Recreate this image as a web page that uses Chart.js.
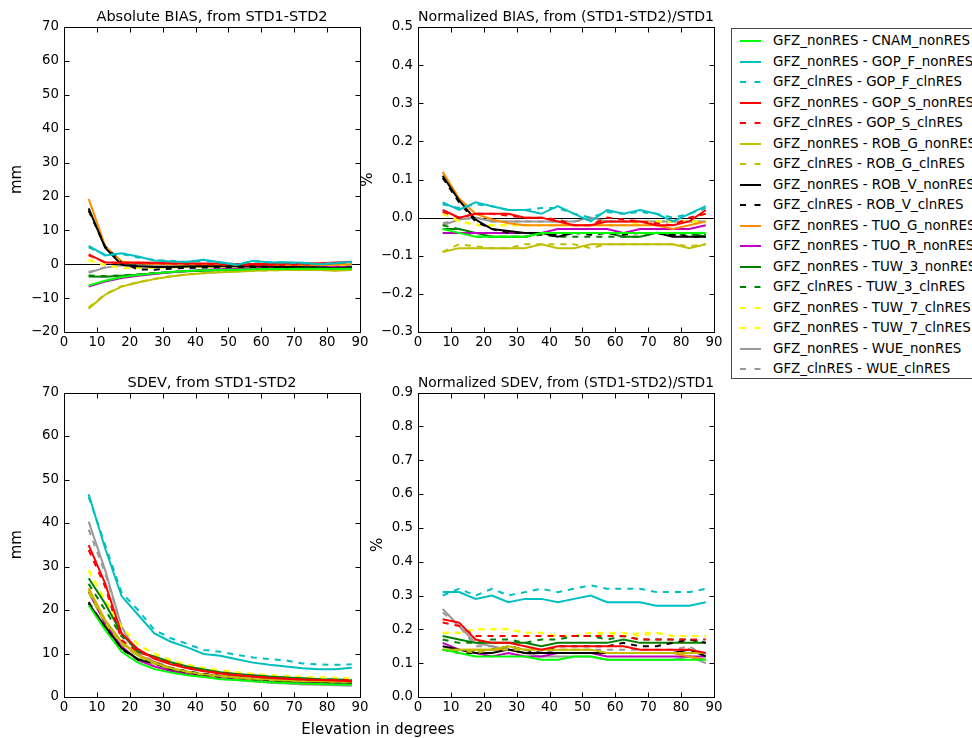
<!DOCTYPE html>
<html><head><meta charset="utf-8">
<script src="https://cdn.jsdelivr.net/npm/chart.js@4.4.0/dist/chart.umd.min.js"></script>
<style>
html,body{margin:0;padding:0;background:#fff;width:972px;height:738px;overflow:hidden;font-family:'DejaVu Sans',sans-serif;}
canvas{position:absolute;}
#legend{position:absolute;left:731px;top:28px;width:262px;height:351px;border:1px solid #444;background:#fff;box-sizing:border-box;}
.row{position:absolute;left:0;height:20px;line-height:20px;font-size:13.4px;white-space:nowrap;color:#000;width:260px;}
.row svg{position:absolute;left:8px;top:0;}
.row span{position:absolute;left:41px;top:0;}
#xlabel{position:absolute;left:0;width:756px;text-align:center;top:720px;line-height:18px;font-size:15px;color:#000;}
</style></head>
<body>
<canvas id="p1"></canvas><canvas id="p2"></canvas><canvas id="p3"></canvas><canvas id="p4"></canvas>
<div id="legend"></div>
<div id="xlabel">Elevation in degrees</div>
<script>
// ---------------- data ----------------
const ELEVATION = [7.5,12.5,17.5,22.5,27.5,32.5,37.5,42.5,47.5,52.5,57.5,62.5,67.5,72.5,77.5,82.5,87.5];
const X_TICKS = [0,10,20,30,40,50,60,70,80,90];
const LEGEND_LABELS = [
  'GFZ_nonRES - CNAM_nonRES','GFZ_nonRES - GOP_F_nonRES','GFZ_clnRES - GOP_F_clnRES',
  'GFZ_nonRES - GOP_S_nonRES','GFZ_clnRES - GOP_S_clnRES','GFZ_nonRES - ROB_G_nonRES',
  'GFZ_clnRES - ROB_G_clnRES','GFZ_nonRES - ROB_V_nonRES','GFZ_clnRES - ROB_V_clnRES',
  'GFZ_nonRES - TUO_G_nonRES','GFZ_nonRES - TUO_R_nonRES','GFZ_nonRES - TUW_3_nonRES',
  'GFZ_clnRES - TUW_3_clnRES','GFZ_nonRES - TUW_7_clnRES','GFZ_nonRES - TUW_7_clnRES',
  'GFZ_nonRES - WUE_nonRES','GFZ_clnRES - WUE_clnRES'];
const PANEL_TITLES = ['Absolute BIAS, from STD1-STD2','Normalized BIAS, from (STD1-STD2)/STD1','SDEV, from STD1-STD2','Normalized SDEV, from (STD1-STD2)/STD1'];

// Absolute bias (mm)
const AB_CNAM  = [-6.3,-4.9,-3.8,-3.2,-2.7,-2.3,-2.0,-1.8,-1.7,-1.6,-1.5,-1.4,-1.4,-1.3,-1.3,-1.3,-1.3];
const AB_GOPF  = [5.4,2.6,3.2,2.3,1.1,0.8,0.7,1.3,0.6,-0.2,1.0,0.5,0.6,0.4,0.0,0.3,0.7];
const AB_GOPFc = [5.0,2.8,3.0,2.0,1.2,1.0,0.6,1.0,0.5,0.0,0.8,0.6,0.5,0.3,0.1,0.4,0.6];
const AB_GOPS  = [2.9,0.5,0.4,0.5,0.4,0.3,0.3,0.2,0.2,0.1,0.1,0.1,0.2,0.2,0.3,0.5,0.7];
const AB_GOPSc = [2.6,0.6,0.3,0.4,0.3,0.2,0.1,0.0,-0.1,-0.2,-0.3,-0.3,-0.2,-0.1,0.0,0.3,0.5];
const AB_ROBG  = [-13.1,-9.0,-6.6,-5.4,-4.4,-3.6,-3.0,-2.7,-2.4,-2.2,-1.9,-1.8,-1.7,-1.7,-1.7,-1.9,-1.7];
const AB_ROBGc = [-12.8,-8.8,-6.5,-5.3,-4.3,-3.5,-3.0,-2.6,-2.3,-2.1,-1.9,-1.8,-1.7,-1.7,-1.6,-1.8,-1.6];
const AB_ROBV  = [16.5,4.9,-0.2,-0.6,-0.8,-0.8,-0.7,-0.6,-0.6,-0.6,-0.6,-0.7,-0.8,-0.9,-1.0,-1.2,-1.0];
const AB_ROBVc = [15.8,5.2,0.5,-1.5,-1.6,-1.3,-1.1,-1.0,-0.9,-0.8,-0.8,-0.8,-0.9,-0.9,-1.0,-1.1,-1.0];
const AB_TUOG  = [19.3,5.4,0.8,0.3,0.1,0.0,-0.1,-0.2,-0.2,-0.3,-0.3,-0.3,-0.3,-0.3,-0.2,-0.1,0.0];
const AB_TUOR  = [-6.6,-5.1,-4.1,-3.4,-2.9,-2.4,-2.0,-1.7,-1.5,-1.3,-1.2,-1.1,-1.0,-0.9,-0.9,-0.8,-0.8];
const AB_TUW3  = [-3.6,-3.7,-3.4,-3.1,-2.7,-2.4,-2.1,-1.9,-1.8,-1.7,-1.6,-1.5,-1.4,-1.4,-1.3,-1.3,-1.2];
const AB_TUW3c = [-3.3,-3.5,-3.3,-3.0,-2.6,-2.3,-2.0,-1.8,-1.7,-1.6,-1.5,-1.4,-1.3,-1.3,-1.2,-1.2,-1.1];
const AB_TUW7a = [1.3,-0.2,-1.2,-1.1,-1.0,-0.9,-0.8,-0.8,-0.7,-0.7,-0.6,-0.6,-0.6,-0.5,-0.5,-0.5,-0.5];
const AB_TUW7b = [1.2,-0.3,-1.1,-1.1,-1.0,-0.9,-0.8,-0.7,-0.7,-0.7,-0.6,-0.6,-0.5,-0.5,-0.5,-0.5,-0.4];
const AB_WUE   = [-2.5,-1.0,-0.4,-0.4,-0.4,-0.5,-0.5,-0.5,-0.5,-0.5,-0.5,-0.5,-0.5,-0.5,-0.5,-0.5,-0.4];
const AB_WUEc  = [-2.3,-0.9,-0.3,-0.4,-0.5,-0.5,-0.5,-0.5,-0.5,-0.5,-0.4,-0.4,-0.4,-0.4,-0.4,-0.4,-0.4];

// Normalized bias (%)
const NB_CNAM  = [-0.03,-0.04,-0.05,-0.05,-0.05,-0.05,-0.04,-0.04,-0.04,-0.04,-0.04,-0.04,-0.04,-0.04,-0.04,-0.04,-0.04];
const NB_GOPF  = [0.04,0.02,0.04,0.03,0.02,0.02,0.01,0.03,0.01,-0.01,0.02,0.01,0.02,0.01,-0.01,0.01,0.03];
const NB_GOPFc = [0.035,0.025,0.035,0.03,0.02,0.02,0.025,0.025,0.01,0.0,0.015,0.01,0.015,0.01,0.0,0.01,0.025];
const NB_GOPS  = [0.02,0.0,0.01,0.01,0.01,0.0,0.0,-0.01,-0.02,-0.02,-0.01,-0.01,-0.01,-0.02,-0.02,-0.01,0.02];
const NB_GOPSc = [0.015,0.0,0.01,0.01,0.005,0.0,0.0,-0.005,-0.02,-0.02,0.0,-0.005,-0.01,-0.015,-0.02,0.0,0.01];
const NB_ROBG  = [-0.09,-0.08,-0.08,-0.08,-0.08,-0.08,-0.07,-0.08,-0.08,-0.07,-0.07,-0.07,-0.07,-0.07,-0.07,-0.08,-0.07];
const NB_ROBGc = [-0.09,-0.07,-0.075,-0.08,-0.08,-0.07,-0.07,-0.07,-0.07,-0.08,-0.07,-0.07,-0.07,-0.07,-0.07,-0.075,-0.07];
const NB_ROBV  = [0.11,0.045,-0.005,-0.03,-0.035,-0.04,-0.04,-0.05,-0.04,-0.04,-0.04,-0.04,-0.04,-0.04,-0.05,-0.05,-0.05];
const NB_ROBVc = [0.105,0.04,-0.01,-0.03,-0.04,-0.04,-0.04,-0.045,-0.04,-0.045,-0.04,-0.045,-0.04,-0.04,-0.045,-0.05,-0.05];
const NB_TUOG  = [0.12,0.05,0.01,-0.005,-0.015,-0.02,-0.02,-0.02,-0.02,-0.02,-0.02,-0.02,-0.02,-0.02,-0.03,-0.02,-0.01];
const NB_TUOR  = [-0.04,-0.04,-0.04,-0.04,-0.04,-0.04,-0.04,-0.03,-0.03,-0.03,-0.03,-0.04,-0.03,-0.03,-0.03,-0.03,-0.02];
const NB_TUW3  = [-0.03,-0.03,-0.04,-0.05,-0.05,-0.05,-0.04,-0.04,-0.04,-0.04,-0.04,-0.05,-0.05,-0.04,-0.04,-0.04,-0.05];
const NB_TUW3c = [-0.02,-0.03,-0.05,-0.05,-0.05,-0.05,-0.045,-0.05,-0.05,-0.05,-0.05,-0.05,-0.05,-0.04,-0.045,-0.045,-0.045];
const NB_TUW7a = [0.01,-0.01,-0.02,-0.02,-0.02,-0.02,-0.02,-0.02,-0.02,-0.02,-0.02,-0.02,-0.02,-0.01,-0.01,-0.01,-0.01];
const NB_TUW7b = [0.012,-0.008,-0.018,-0.02,-0.02,-0.02,-0.02,-0.02,-0.02,-0.02,-0.02,-0.02,-0.015,-0.01,-0.01,-0.01,-0.01];
const NB_WUE   = [-0.02,-0.005,0.0,-0.01,-0.01,-0.01,-0.01,-0.01,-0.01,0.0,-0.01,-0.01,-0.01,-0.01,-0.01,-0.01,-0.01];
const NB_WUEc  = [-0.015,-0.005,0.0,-0.01,-0.01,-0.01,-0.01,-0.01,-0.01,-0.005,-0.01,-0.01,-0.01,-0.01,-0.01,-0.01,-0.01];

// SDEV (mm)
const SD_CNAM  = [21.1,15.4,10.4,7.9,6.4,5.6,5.0,4.6,4.1,3.9,3.6,3.4,3.2,3.1,3.0,2.9,2.9];
const SD_GOPF  = [46.6,34.2,23.2,18.9,14.6,12.7,11.4,9.9,9.5,8.7,7.9,7.4,7.0,6.6,6.4,6.4,6.7];
const SD_GOPFc = [46.0,35.0,24.0,20.0,15.4,13.5,12.2,10.8,10.4,9.7,9.1,8.7,8.4,7.7,7.5,7.4,7.5];
const SD_GOPS  = [34.9,26.1,14.6,11.0,8.8,7.5,6.6,5.9,5.4,5.0,4.7,4.4,4.2,4.0,3.9,3.8,3.6];
const SD_GOPSc = [33.8,25.4,13.1,10.4,9.1,7.8,6.8,6.0,5.5,5.1,4.7,4.4,4.2,4.0,3.9,3.9,3.9];
const SD_ROBG  = [24.6,17.5,12.5,9.5,7.8,6.6,5.8,5.2,4.8,4.5,4.2,4.0,3.8,3.7,3.6,3.5,3.5];
const SD_ROBGc = [24.0,17.0,12.2,9.3,7.6,6.5,5.7,5.1,4.7,4.4,4.1,3.9,3.8,3.7,3.6,3.5,3.4];
const SD_ROBV  = [21.5,16.2,11.2,8.7,7.7,6.4,5.7,5.1,4.7,4.4,4.1,3.9,3.7,3.6,3.5,3.4,3.3];
const SD_ROBVc = [21.8,16.0,11.0,8.6,7.9,6.6,5.9,5.3,4.9,4.6,4.3,4.1,3.9,3.8,3.7,3.6,3.5];
const SD_TUOG  = [25.0,17.7,12.7,9.7,7.9,6.7,5.8,5.2,4.8,4.5,4.2,4.0,3.8,3.7,3.6,3.5,3.4];
const SD_TUOR  = [24.2,16.9,11.6,8.5,7.0,6.0,5.3,4.9,4.6,4.2,3.9,3.7,3.5,3.4,3.3,3.2,3.1];
const SD_TUW3  = [27.3,21.5,14.6,10.4,9.3,8.0,7.0,6.3,5.7,5.3,5.0,4.7,4.5,4.3,4.1,4.0,3.8];
const SD_TUW3c = [26.0,20.0,14.0,10.8,9.0,7.8,6.9,6.2,5.6,5.2,4.9,4.6,4.4,4.2,4.1,4.0,3.9];
const SD_TUW7a = [29.2,22.3,16.2,12.0,10.0,8.5,7.4,6.7,6.2,5.7,5.3,5.0,4.8,4.6,4.5,4.4,4.3];
const SD_TUW7b = [29.0,22.0,16.0,12.0,9.9,8.4,7.4,6.6,6.1,5.7,5.3,5.0,4.8,4.6,4.5,4.4,4.3];
const SD_WUE   = [40.3,29.2,16.2,9.7,8.1,6.6,5.6,4.9,4.3,3.9,3.6,3.3,3.1,2.9,2.8,2.7,2.6];
const SD_WUEc  = [38.5,28.5,16.0,10.0,8.2,6.8,5.8,5.1,4.6,4.2,3.9,3.6,3.4,3.3,3.2,3.1,3.0];

// Normalized SDEV (%)
const NS_CNAM  = [0.14,0.13,0.12,0.12,0.12,0.12,0.11,0.11,0.12,0.12,0.11,0.11,0.11,0.11,0.11,0.11,0.11];
const NS_GOPF  = [0.31,0.31,0.29,0.30,0.28,0.29,0.29,0.28,0.29,0.30,0.28,0.28,0.28,0.27,0.27,0.27,0.28];
const NS_GOPFc = [0.30,0.32,0.30,0.32,0.30,0.31,0.32,0.31,0.32,0.33,0.32,0.32,0.32,0.31,0.31,0.31,0.32];
const NS_GOPS  = [0.23,0.22,0.17,0.16,0.16,0.15,0.14,0.15,0.15,0.15,0.15,0.15,0.14,0.14,0.14,0.14,0.13];
const NS_GOPSc = [0.22,0.21,0.18,0.18,0.18,0.18,0.18,0.18,0.18,0.18,0.18,0.18,0.17,0.17,0.17,0.17,0.17];
const NS_ROBG  = [0.14,0.14,0.14,0.14,0.15,0.14,0.14,0.14,0.14,0.14,0.13,0.13,0.13,0.13,0.13,0.13,0.13];
const NS_ROBGc = [0.14,0.14,0.13,0.14,0.14,0.14,0.14,0.14,0.14,0.14,0.13,0.13,0.13,0.13,0.13,0.13,0.13];
const NS_ROBV  = [0.15,0.14,0.13,0.13,0.14,0.13,0.13,0.13,0.13,0.13,0.13,0.13,0.13,0.13,0.13,0.14,0.12];
const NS_ROBVc = [0.14,0.13,0.13,0.14,0.15,0.14,0.13,0.15,0.15,0.15,0.15,0.16,0.15,0.15,0.16,0.17,0.16];
const NS_TUOG  = [0.14,0.14,0.14,0.14,0.14,0.13,0.13,0.13,0.13,0.13,0.13,0.13,0.13,0.13,0.13,0.12,0.11];
const NS_TUOR  = [0.16,0.14,0.13,0.12,0.13,0.12,0.12,0.13,0.13,0.13,0.12,0.12,0.12,0.12,0.12,0.12,0.12];
const NS_TUW3  = [0.18,0.17,0.16,0.16,0.16,0.16,0.15,0.16,0.16,0.16,0.16,0.17,0.16,0.16,0.16,0.16,0.16];
const NS_TUW3c = [0.17,0.16,0.16,0.17,0.17,0.16,0.17,0.17,0.18,0.18,0.17,0.18,0.17,0.17,0.17,0.17,0.16];
const NS_TUW7a = [0.19,0.19,0.20,0.20,0.20,0.19,0.19,0.18,0.18,0.19,0.19,0.18,0.19,0.19,0.18,0.18,0.18];
const NS_TUW7b = [0.19,0.19,0.20,0.20,0.20,0.19,0.19,0.18,0.18,0.18,0.19,0.19,0.18,0.19,0.18,0.18,0.18];
const NS_WUE   = [0.26,0.21,0.16,0.15,0.14,0.13,0.12,0.12,0.12,0.12,0.11,0.11,0.11,0.11,0.11,0.12,0.10];
const NS_WUEc  = [0.25,0.21,0.15,0.15,0.14,0.14,0.13,0.14,0.14,0.14,0.14,0.14,0.14,0.14,0.14,0.15,0.12];

// ---------------- styles ----------------
const STYLES = [
  {c:'#00ff00',d:false},{c:'#00bfbf',d:false},{c:'#00bfbf',d:true},
  {c:'#ff0000',d:false},{c:'#ff0000',d:true},{c:'#bfbf00',d:false},
  {c:'#bfbf00',d:true},{c:'#000000',d:false},{c:'#000000',d:true},
  {c:'#ff8c00',d:false},{c:'#bf00bf',d:false},{c:'#008000',d:false},
  {c:'#008000',d:true},{c:'#ffff00',d:true},{c:'#ffff00',d:true},
  {c:'#999999',d:false},{c:'#999999',d:true}];
const FONT = 'DejaVu Sans';
const TICK_SIZE = 13.3, TITLE_SIZE = 14.5, LABEL_SIZE = 15;
Chart.defaults.font.family = FONT;
Chart.defaults.color = '#000';

const framePlugin = {
  id: 'frame',
  beforeDatasetsDraw(chart, args, opts) {
    if (!opts.zeroLine) return;
    const {ctx, chartArea: a} = chart; const y = chart.scales.y;
    const py = Math.round(y.getPixelForValue(0)) + 0.5;
    ctx.save(); ctx.strokeStyle = '#000'; ctx.lineWidth = 1;
    ctx.beginPath(); ctx.moveTo(a.left, py); ctx.lineTo(a.right, py); ctx.stroke(); ctx.restore();
  },
  afterDraw(chart) {
    const {ctx, chartArea: a} = chart; const x = chart.scales.x, y = chart.scales.y;
    ctx.save(); ctx.strokeStyle = '#000'; ctx.lineWidth = 1;
    const L = Math.round(a.left)+0.5, R = Math.round(a.right)+0.5, T = Math.round(a.top)+0.5, B = Math.round(a.bottom)+0.5;
    ctx.strokeRect(L, T, R - L, B - T);
    ctx.beginPath();
    x.ticks.forEach(t => { const px = Math.round(x.getPixelForValue(t.value)) + 0.5;
      ctx.moveTo(px, B); ctx.lineTo(px, B - 5); ctx.moveTo(px, T); ctx.lineTo(px, T + 5); });
    y.ticks.forEach(t => { const py = Math.round(y.getPixelForValue(t.value)) + 0.5;
      ctx.moveTo(L, py); ctx.lineTo(L + 5, py); ctx.moveTo(R, py); ctx.lineTo(R - 5, py); });
    ctx.stroke(); ctx.restore();
  }
};

function fmt(v, dec) {
  let r = dec ? (Math.round(v * 10) / 10) : Math.round(v);
  if (Object.is(r, -0)) r = 0;
  const s = dec ? r.toFixed(1) : String(r);
  return s.replace('-', '\u2212');
}

function makePanel(id, cLeft, cTop, w, h, rect, title, titleCenter, yLabel, yMin, yMax, yStep, dec, series, zero) {
  const cv = document.getElementById(id);
  cv.width = w; cv.height = h;
  cv.style.left = cLeft + 'px'; cv.style.top = cTop + 'px';
  cv.style.width = w + 'px'; cv.style.height = h + 'px';
  const lh = TITLE_SIZE * 1.2;
  const titleTop = titleCenter - lh / 2;
  new Chart(cv, {
    type: 'line',
    data: { datasets: series.map((vals, i) => ({
      label: LEGEND_LABELS[i],
      data: ELEVATION.map((e, k) => ({x: e, y: vals[k]})),
      borderColor: STYLES[i].c, backgroundColor: STYLES[i].c,
      borderWidth: 2, borderDash: STYLES[i].d ? [6, 6] : [],
      pointRadius: 0, tension: 0, fill: false })) },
    options: {
      responsive: false, animation: false, devicePixelRatio: 1,
      layout: { padding: { left: 0, top: 0, right: w - rect.r, bottom: 0 } },
      plugins: {
        legend: { display: false }, tooltip: { enabled: false },
        title: { display: true, fullSize: false, text: title, color: '#000',
          font: { family: FONT, size: TITLE_SIZE, weight: 'normal', lineHeight: 1.2 },
          padding: { top: titleTop, bottom: rect.t - titleTop - lh } },
        frame: { zeroLine: zero }
      },
      scales: {
        x: { type: 'linear', min: 0, max: 90,
          afterBuildTicks: s => { s.ticks = X_TICKS.map(v => ({value: v})); },
          ticks: { color: '#000', font: { family: FONT, size: TICK_SIZE }, padding: 3, maxRotation: 0, autoSkip: false },
          grid: { display: false, drawTicks: false }, border: { display: false },
          afterFit: s => { s.height = h - rect.b; } },
        y: { type: 'linear', min: yMin, max: yMax,
          ticks: { stepSize: yStep, color: '#000', font: { family: FONT, size: TICK_SIZE }, padding: 5, autoSkip: false,
            callback: v => fmt(v, dec) },
          grid: { display: false, drawTicks: false }, border: { display: false },
          title: { display: true, text: yLabel, color: '#000', font: { family: FONT, size: LABEL_SIZE, lineHeight: 1.2 }, padding: { top: 8, bottom: 0 } },
          afterFit: s => { s.width = rect.l; } }
      }
    },
    plugins: [framePlugin]
  });
}

const P1 = [AB_CNAM,AB_GOPF,AB_GOPFc,AB_GOPS,AB_GOPSc,AB_ROBG,AB_ROBGc,AB_ROBV,AB_ROBVc,AB_TUOG,AB_TUOR,AB_TUW3,AB_TUW3c,AB_TUW7a,AB_TUW7b,AB_WUE,AB_WUEc];
const P2 = [NB_CNAM,NB_GOPF,NB_GOPFc,NB_GOPS,NB_GOPSc,NB_ROBG,NB_ROBGc,NB_ROBV,NB_ROBVc,NB_TUOG,NB_TUOR,NB_TUW3,NB_TUW3c,NB_TUW7a,NB_TUW7b,NB_WUE,NB_WUEc];
const P3 = [SD_CNAM,SD_GOPF,SD_GOPFc,SD_GOPS,SD_GOPSc,SD_ROBG,SD_ROBGc,SD_ROBV,SD_ROBVc,SD_TUOG,SD_TUOR,SD_TUW3,SD_TUW3c,SD_TUW7a,SD_TUW7b,SD_WUE,SD_WUEc];
const P4 = [NS_CNAM,NS_GOPF,NS_GOPFc,NS_GOPS,NS_GOPSc,NS_ROBG,NS_ROBGc,NS_ROBV,NS_ROBVc,NS_TUOG,NS_TUOR,NS_TUW3,NS_TUW3c,NS_TUW7a,NS_TUW7b,NS_WUE,NS_WUEc];

makePanel('p1', 0, 0, 380, 360, {l:64, t:27, r:360, b:332}, PANEL_TITLES[0], 17, 'mm', -20, 70, 10, false, P1, true);
makePanel('p2', 351, 0, 383, 360, {l:67, t:27, r:363, b:332}, PANEL_TITLES[1], 17, '%', -0.3, 0.5, 0.1, true, P2, true);
makePanel('p3', 0, 365, 380, 360, {l:64, t:27.5, r:360, b:332}, PANEL_TITLES[2], 18.3, 'mm', 0, 70, 10, false, P3, false);
makePanel('p4', 361, 365, 373, 360, {l:57, t:27.5, r:353, b:332}, PANEL_TITLES[3], 18.3, '%', 0, 0.9, 0.1, true, P4, false);

// legend (HTML)
const lg = document.getElementById('legend');
LEGEND_LABELS.forEach((lab, i) => {
  const row = document.createElement('div');
  row.className = 'row';
  row.style.top = (2 + 20.5 * i) + 'px';
  const st = STYLES[i];
  row.innerHTML = '<svg width="22" height="20"><line x1="0" y1="10" x2="21" y2="10" stroke="' + st.c +
    '" stroke-width="2"' + (st.d ? ' stroke-dasharray="6,8.5"' : '') + '/></svg><span></span>';
  row.querySelector('span').textContent = lab;
  lg.appendChild(row);
});
</script>
</body></html>
